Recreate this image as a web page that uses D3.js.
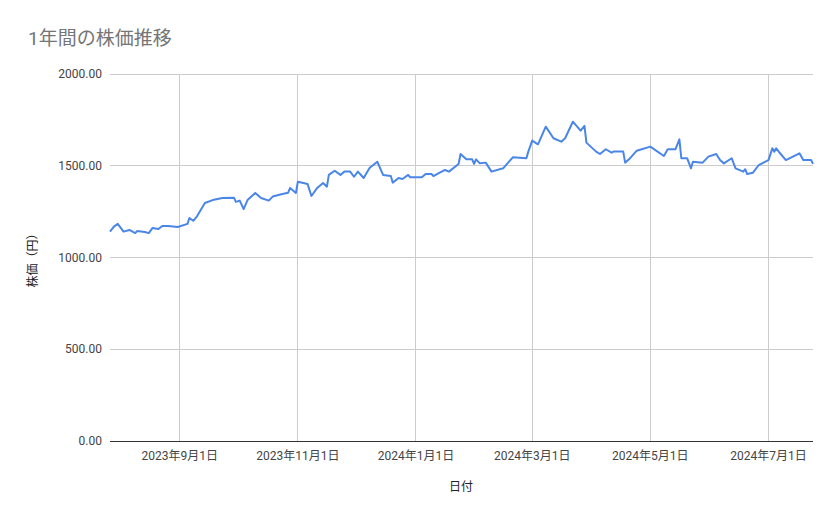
<!DOCTYPE html>
<html>
<head>
<meta charset="utf-8">
<script src="https://cdn.jsdelivr.net/npm/d3@7"></script>
<style>
  body { margin: 0; background: #fff; }
  text { font-family: Roboto, "Noto Sans CJK JP", sans-serif; }
</style>
</head>
<body>
<div id="chart"></div>
<script>
// days since 2023-07-27 and closing price
const startDate = new Date(2023, 6, 27);
const dayOffsets = [0,2,4,7,10,13,14,18,20,22,25,27,30,35,40,41,43,45,49,53,58,64,65,67,69,71,75,78,82,84,89,92,93,96,97,102,104,107,110,112,113,116,119,121,124,126,128,131,134,138,141,145,146,149,151,154,155,161,163,166,167,170,173,175,180,
  181,184,187,188,189,191,194,197,203,208,215,216,218,221,225,229,233,235,239,243,245,246,251,253,256,259,260,265,266,268,272,279,286,288,292,294,295,298,300,301,306,309,313,315,317,321,323,327,328,329,332,335,340,342,343,344,346,349,356,358,362,363];
const prices = [1141,1168,1183,1141,1150,1133,1144,1139,1133,1161,1155,1172,1172,1166,1183,1215,1200,1226,1297,1313,1324,1326,1303,1310,1264,1313,1352,1324,1310,1332,1346,1353,1379,1352,1413,1401,1335,1379,1406,1386,1450,1473,1450,1468,1468,1440,1468,1433,1488,1522,1450,1444,1408,1433,1428,1450,1437,1437,1455,1455,1444,1461,1477,1468,1510,
  1564,1535,1535,1510,1535,1513,1517,1468,1486,1546,1541,1577,1637,1617,1713,1650,1631,1650,1740,1691,1717,1626,1577,1564,1590,1571,1577,1577,1517,1535,1582,1604,1553,1590,1590,1644,1541,1541,1486,1522,1517,1550,1564,1531,1513,1541,1486,1468,1481,1455,1462,1504,1531,1595,1577,1595,1568,1531,1568,1531,1531,1510];
const yTicks = [0, 500, 1000, 1500, 2000];
const xTicks = [new Date(2023,8,1), new Date(2023,10,1), new Date(2024,0,1), new Date(2024,2,1), new Date(2024,4,1), new Date(2024,6,1)];

const data = dayOffsets.map((d, i) => ({ date: d3.timeDay.offset(startDate, d), value: prices[i] }));

const W = 839, H = 519;
const m = { left: 110, right: 26, top: 74, bottom: 78 };

const svg = d3.select('#chart').append('svg').attr('width', W).attr('height', H);

const x = d3.scaleTime()
  .domain([startDate, d3.timeDay.offset(startDate, 363)])
  .range([m.left, W - m.right]);
const y = d3.scaleLinear().domain([0, 2000]).range([H - m.bottom, m.top]);

// gridlines
svg.append('g').selectAll('line').data(yTicks).join('line')
  .attr('x1', m.left).attr('x2', W - m.right)
  .attr('y1', d => y(d)).attr('y2', d => y(d))
  .attr('stroke', d => d === 0 ? '#333' : '#cccccc').attr('stroke-width', 1)
  .attr('shape-rendering', 'crispEdges');
svg.append('g').selectAll('line').data(xTicks).join('line')
  .attr('x1', d => x(d)).attr('x2', d => x(d))
  .attr('y1', m.top).attr('y2', H - m.bottom)
  .attr('stroke', '#cccccc').attr('shape-rendering', 'crispEdges');

// y labels
svg.append('g').selectAll('text').data(yTicks).join('text')
  .attr('x', m.left - 8).attr('y', d => y(d) + 4)
  .attr('text-anchor', 'end').attr('font-size', 12).attr('fill', '#444')
  .text(d => d3.format('.2f')(d));

// x labels
svg.append('g').selectAll('text').data(xTicks).join('text')
  .attr('x', d => x(d)).attr('y', H - m.bottom + 19)
  .attr('text-anchor', 'middle').attr('font-size', 12).attr('fill', '#444')
  .text(d => `${d.getFullYear()}年${d.getMonth() + 1}月${d.getDate()}日`);

// line
svg.append('path').datum(data)
  .attr('fill', 'none').attr('stroke', '#4a86e8').attr('stroke-width', 2)
  .attr('stroke-linejoin', 'round')
  .attr('d', d3.line().x(d => x(d.date)).y(d => y(d.value)));

// titles
svg.append('text').attr('x', 28).attr('y', 45)
  .attr('font-size', 19).attr('fill', '#757575').text('1年間の株価推移');
svg.append('text').attr('x', 461).attr('y', 491)
  .attr('text-anchor', 'middle').attr('font-size', 12).attr('fill', '#222').text('日付');
svg.append('text').attr('transform', `translate(37,${(m.top + H - m.bottom) / 2}) rotate(-90)`)
  .attr('text-anchor', 'middle').attr('font-size', 12).attr('fill', '#222').text('株価（円）');
</script>
</body>
</html>
